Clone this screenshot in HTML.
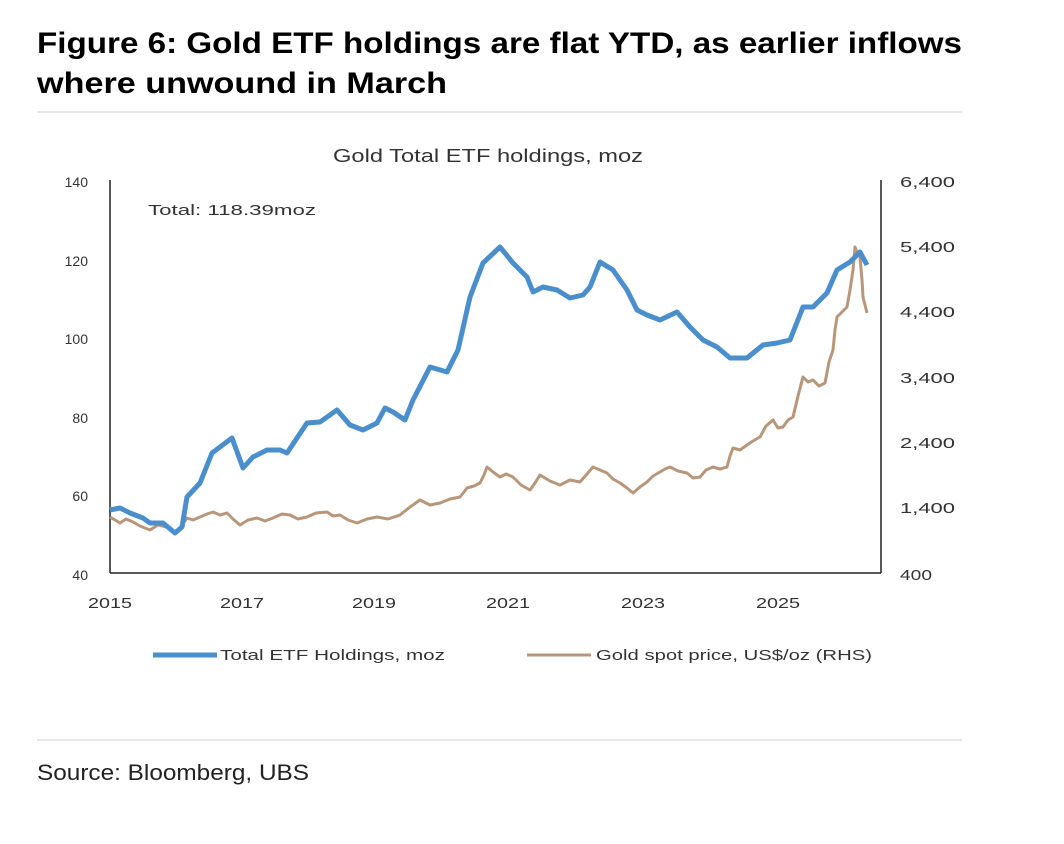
<!DOCTYPE html>
<html><head><meta charset="utf-8"><style>
body{margin:0;background:#fff;width:1064px;height:839px;overflow:hidden;font-family:"Liberation Sans",sans-serif}
</style></head><body>
<svg width="1064" height="839" xmlns="http://www.w3.org/2000/svg" font-family="Liberation Sans, sans-serif">
<text x="37" y="53" font-size="30" font-weight="bold" fill="#000" textLength="925" lengthAdjust="spacingAndGlyphs">Figure 6: Gold ETF holdings are flat YTD, as earlier inflows</text>
<text x="37" y="93" font-size="30" font-weight="bold" fill="#000" textLength="410" lengthAdjust="spacingAndGlyphs">where unwound in March</text>
<line x1="37" y1="112" x2="962" y2="112" stroke="#ccc" stroke-width="1"/>
<line x1="37" y1="740" x2="962" y2="740" stroke="#ccc" stroke-width="1"/>
<text x="37" y="780" font-size="22" fill="#222" textLength="272" lengthAdjust="spacingAndGlyphs">Source: Bloomberg, UBS</text>
<text x="333" y="162" font-size="18" fill="#333" textLength="310" lengthAdjust="spacingAndGlyphs">Gold Total ETF holdings, moz</text>
<text x="148" y="215" font-size="15" fill="#333" textLength="168" lengthAdjust="spacingAndGlyphs">Total: 118.39moz</text>
<g stroke="#222" stroke-width="1.5" fill="none">
<line x1="110" y1="180" x2="110" y2="573"/><line x1="110" y1="573" x2="881" y2="573"/><line x1="881" y1="180" x2="881" y2="573"/>
</g>
<g font-size="14" fill="#333" text-anchor="end">
<text x="88" y="187">140</text><text x="88" y="266">120</text><text x="88" y="344">100</text><text x="88" y="423">80</text><text x="88" y="501">60</text><text x="88" y="580">40</text>
</g>
<g font-size="15" fill="#333">
<text x="900" y="187" textLength="55" lengthAdjust="spacingAndGlyphs">6,400</text><text x="900" y="252" textLength="55" lengthAdjust="spacingAndGlyphs">5,400</text><text x="900" y="317" textLength="55" lengthAdjust="spacingAndGlyphs">4,400</text><text x="900" y="383" textLength="55" lengthAdjust="spacingAndGlyphs">3,400</text><text x="900" y="448" textLength="55" lengthAdjust="spacingAndGlyphs">2,400</text><text x="900" y="513" textLength="55" lengthAdjust="spacingAndGlyphs">1,400</text><text x="900" y="580" textLength="32" lengthAdjust="spacingAndGlyphs">400</text>
</g>
<g font-size="15" fill="#333">
<text x="88" y="608" textLength="44" lengthAdjust="spacingAndGlyphs">2015</text><text x="220" y="608" textLength="44" lengthAdjust="spacingAndGlyphs">2017</text><text x="352" y="608" textLength="44" lengthAdjust="spacingAndGlyphs">2019</text><text x="486" y="608" textLength="44" lengthAdjust="spacingAndGlyphs">2021</text><text x="621" y="608" textLength="44" lengthAdjust="spacingAndGlyphs">2023</text><text x="756" y="608" textLength="44" lengthAdjust="spacingAndGlyphs">2025</text>
</g>
<polyline fill="none" stroke="#b8967a" stroke-width="3" stroke-linejoin="round" points="110,517 115,520 120,523 126,519 133,522 140,526 150,530 158,525 167,527 172,531 177,532 182,525 187,518 193,520 200,517 207,514 213,512 220,515 227,513 233,519 240,525 248,520 257,518 265,521 273,518 282,514 290,515 298,519 307,517 316,513 327,512 333,516 340,515 348,520 357,523 367,519 377,517 388,519 400,515 410,507 420,500 430,505 440,503 450,499 460,497 464,492 467,488 474,486 480,483 484,475 487,467 493,472 500,477 506,474 513,477 521,485 530,490 535,483 540,475 550,481 560,485 570,480 580,482 587,474 593,467 600,470 607,473 613,479 620,483 627,488 633,493 640,487 647,482 653,476 660,472 665,469 670,467 678,471 687,473 693,478 700,477 706,470 713,467 720,469 727,467 730,456 733,448 740,450 747,445 753,441 760,437 766,426 773,420 778,428 783,427 788,420 793,417 798,396 803,377 808,382 813,380 819,386 825,383 829,362 833,350 835,330 837,317 842,312 847,307 850,290 853,270 855,247 858,255 860,257 862,280 863,297 865,305 867,313"/>
<polyline fill="none" stroke="#4a8fcc" stroke-width="5" stroke-linejoin="round" points="110,510 120,508 130,513 143,518 150,523 163,523 175,533 182,527 187,497 200,483 212,453 220,447 232,438 243,468 253,457 267,450 280,450 287,453 307,423 320,422 337,410 350,425 363,430 377,423 385,408 393,412 405,420 413,400 430,367 447,372 458,350 470,297 483,263 500,247 513,263 527,277 533,292 543,287 557,290 570,298 583,295 590,287 600,262 613,270 627,290 637,310 647,315 660,320 677,312 690,327 703,340 717,347 730,358 747,358 763,345 777,343 790,340 803,307 813,307 827,293 837,270 850,262 860,252 867,265"/>
<line x1="153" y1="655" x2="217" y2="655" stroke="#4a8fcc" stroke-width="5"/>
<text x="220" y="660" font-size="15" fill="#333" textLength="225" lengthAdjust="spacingAndGlyphs">Total ETF Holdings, moz</text>
<line x1="527" y1="655" x2="591" y2="655" stroke="#b8967a" stroke-width="3"/>
<text x="596" y="660" font-size="15" fill="#333" textLength="276" lengthAdjust="spacingAndGlyphs">Gold spot price, US$/oz (RHS)</text>
</svg>
</body></html>
